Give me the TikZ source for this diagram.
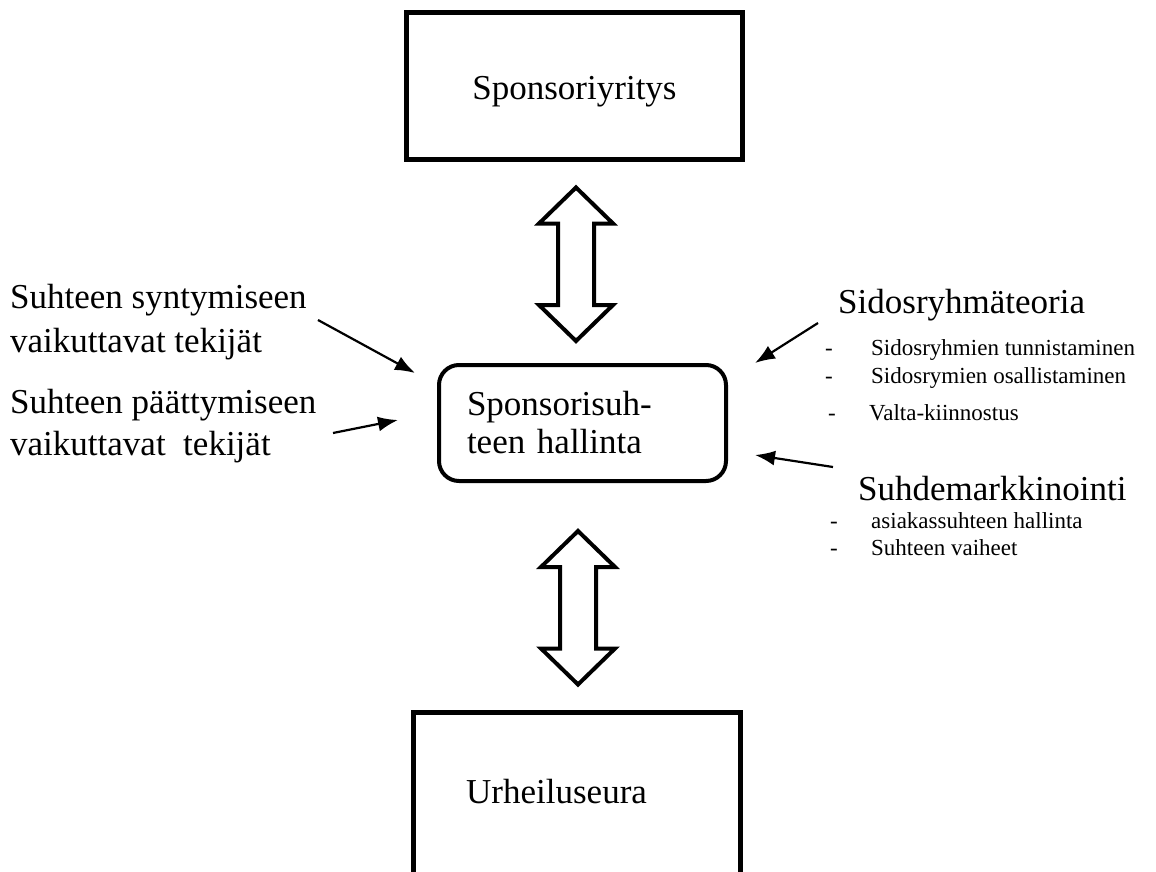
\documentclass[tikz,border=0pt]{standalone}
\usepackage{fontspec}
\setmainfont{Liberation Serif}
\usetikzlibrary{arrows.meta,calc}

% hollow two-headed block arrow between two tip coordinates (same x)
\newcommand\twowayarrow[2]{%
  \draw[blockarrow] let \p1=(#1), \p2=(#2) in
    (\x1,\y1) -- (\x1+37pt,\y1-36pt) -- (\x1+18pt,\y1-36pt)
    -- (\x1+18pt,\y2+36pt) -- (\x1+37pt,\y2+36pt) -- (\x1,\y2)
    -- (\x1-37pt,\y2+36pt) -- (\x1-18pt,\y2+36pt)
    -- (\x1-18pt,\y1-36pt) -- (\x1-37pt,\y1-36pt) -- cycle;}

\begin{document}
\begin{tikzpicture}[x=1pt,y=-1pt,
  big/.style={font=\fontsize{35}{44}\selectfont, inner sep=0pt},
  small/.style={font=\fontsize{23}{28}\selectfont, inner sep=0pt},
  plainbox/.style={draw, line width=5pt, inner sep=0pt, fill=white},
  roundbox/.style={draw, line width=4pt, rounded corners=20pt, inner sep=0pt, fill=white},
  blockarrow/.style={draw, line width=4pt, fill=white, line join=miter},
  pointer/.style={line width=2.2pt, -{Latex[length=20pt,width=15pt]}},
]
\clip (0,0) rectangle (1156,872);
\fill[white] (0,0) rectangle (1156,872);

% main boxes
\node[plainbox, big, minimum width=336pt, minimum height=147pt] (sponsor) at (574.5,86)
  {\raisebox{-5pt}[24pt][7pt]{Sponsoriyritys}};
\node[roundbox, font=\fontsize{35}{38}\selectfont, minimum width=287pt, minimum height=116pt,
      text width=231pt, align=left] (mid) at (582.5,423) {Sponsorisuh-\\teen hallinta};
\node[plainbox, minimum width=327pt, minimum height=240pt] (club) at (577,832.5) {};
\node[big, anchor=base west] (clubtext) at (466,803) {Urheiluseura};

% two-way block arrows
\coordinate (a1t) at ($(sponsor.south)+(1.5,25.5)$);
\coordinate (a1b) at ($(mid.north)+(-6.5,-22)$);
\twowayarrow{a1t}{a1b}
\coordinate (a2t) at ($(mid.south)+(-4.5,48)$);
\coordinate (a2b) at ($(club.north)+(1,-25.5)$);
\twowayarrow{a2t}{a2b}

% left-hand factors
\node[big, anchor=base west] (birth1) at (10,308) {Suhteen syntymiseen};
\node[big, anchor=base west] (birth2) at (10,352) {vaikuttavat tekijät};
\node[big, anchor=base west] (end1) at (10,413) {Suhteen päättymiseen};
\node[big, anchor=base west] (end2) at (10,455) {vaikuttavat\ \ tekijät};

% right-hand theories
\node[big, anchor=base west] (stake) at (838,313) {Sidosryhmäteoria};
\node[small, anchor=base west] (sd1) at (825,355) {-};
\node[small, anchor=base west] (s1) at (871,355) {Sidosryhmien tunnistaminen};
\node[small, anchor=base west] (sd2) at (825,383) {-};
\node[small, anchor=base west] (s2) at (871,383) {Sidosrymien osallistaminen};
\node[small, anchor=base west] (sd3) at (828,420) {-};
\node[small, anchor=base west] (s3) at (869,420) {Valta-kiinnostus};

\node[big, anchor=base west] (rel) at (858,500) {Suhdemarkkinointi};
\node[small, anchor=base west] (rd1) at (830,528) {-};
\node[small, anchor=base west] (r1) at (871,528) {asiakassuhteen hallinta};
\node[small, anchor=base west] (rd2) at (830,555) {-};
\node[small, anchor=base west] (r2) at (871,555) {Suhteen vaiheet};

% thin pointers towards the management box
\coordinate (p1s) at (318,320);
\coordinate (p1e) at (415,373);
\coordinate (p2s) at (333,433);
\coordinate (p2e) at (398,420);
\coordinate (p3s) at (818,323);
\coordinate (p3e) at (755,363);
\coordinate (p4s) at (833,467);
\coordinate (p4e) at (755,455);
\draw[pointer] (p1s) -- (p1e);
\draw[pointer] (p2s) -- (p2e);
\draw[pointer] (p3s) -- (p3e);
\draw[pointer] (p4s) -- (p4e);
\end{tikzpicture}
\end{document}
